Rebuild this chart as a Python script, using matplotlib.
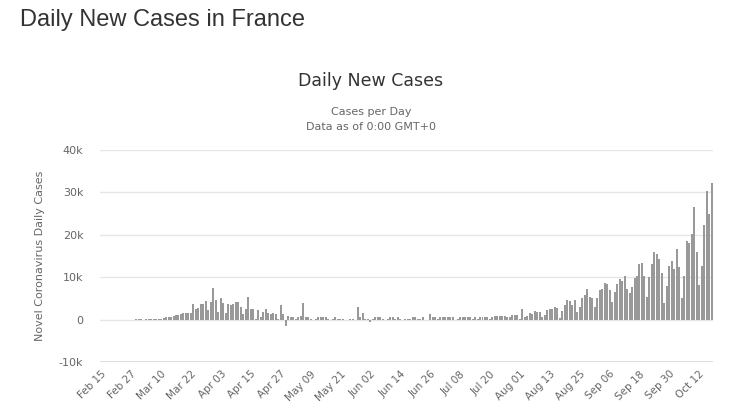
import matplotlib
matplotlib.use("Agg")
import matplotlib.pyplot as plt
import numpy as np
import datetime as dt

# daily new cases, France, Feb 15 - Oct 17 2020
feb = [0, 0, 0, 0, 0, 0, 0, 0, 0, 0, 2, 2, 20, 19, 43]
mar = [30, 61, 21, 73, 138, 190, 200, 200, 100, 250, 400, 500, 600, 700, 850,
       1150, 1050, 1250, 1600, 1500, 1600, 1450, 3700, 2400, 2800, 3700, 3700,
       4400, 2300, 4200, 7500]
apr = [4700, 1900, 5100, 4000, 1600, 3700, 3500, 3700, 4200, 4200, 3000, 1400,
       2600, 5400, 2600, 2600, 200, 2300, 700, 1900, 2600, 1600, 1400, 1600,
       1400, 200, 3500, 1400, -1400, 900]
may = [500, 700, 200, 500, 900, 4000, 500, 500, 200, 0, 200, 500, 500, 500, 500,
       200, 0, 200, 500, 200, 200, 200, 0, 0, 200, 200, 0, 3000, 500, 1600, 100]
jun = [200, -600, 200, 700, 500, 500, 200, 0, 200, 500, 500, 200, 500, 200, 0,
       200, 200, 200, 700, 500, 200, 200, 500, 0, 0, 1400, 700, 500, 200, 500]
jul = [700, 500, 500, 500, 500, 0, 200, 500, 500, 500, 500, 500, 200, 500, 200,
       500, 700, 700, 700, 200, 700, 900, 900, 900, 900, 900, 500, 600, 1200,
       1200, 1200]
aug = [100, 2600, 500, 900, 1600, 1400, 2100, 1900, 1900, 700, 1200, 2300, 2600,
       2600, 3000, 2800, 400, 2100, 3500, 4700, 4400, 3500, 4700, 1900, 3000,
       5200, 5800, 7200, 5400, 5100, 3000]
sep = [5000, 6900, 7100, 8700, 8500, 7000, 4200, 6400, 8500, 9600, 9200, 10400,
       7300, 6200, 7800, 9700, 10400, 13000, 13300, 10400, 5400, 10000, 13000,
       16000, 15400, 14200, 11100, 4000, 8000, 12600]
octo = [13800, 11900, 16600, 12400, 5100, 10300, 18600, 18000, 20100, 26500,
        16000, 8200, 12600, 22200, 30300, 25000, 32200]

cases = feb + mar + apr + may + jun + jul + aug + sep + octo
start = dt.date(2020, 2, 15)
dates = [start + dt.timedelta(days=i) for i in range(len(cases))]
labels = [d.strftime("%b %d") for d in dates]

y_ticks = [-10000, 0, 10000, 20000, 30000, 40000]
y_ticklabels = ["-10k", "0", "10k", "20k", "30k", "40k"]

GRID = "#e6e6e6"
AXIS = "#ccd6eb"
BAR = "#999999"
TXT = "#666666"
DARK = "#333333"

fig = plt.figure(figsize=(7.3, 4.13), dpi=100)
ax = fig.add_axes([100/730, 1 - 362/413, 613/730, 212/413])

x = np.arange(len(cases))
ax.bar(x, cases, width=0.8, color=BAR, zorder=3)

ax.set_xlim(-0.5, len(cases) - 0.5)
ax.set_ylim(-10000, 40000)
ax.set_yticks(y_ticks)
ax.set_yticklabels(y_ticklabels, color=TXT, fontsize=8)
for yv in y_ticks[1:]:
    ax.axhline(yv, color=GRID, lw=1, zorder=1)
ax.axhline(-10000, color=AXIS, lw=1.2, zorder=2)

ticks = list(range(0, len(cases), 12))
ax.set_xticks(ticks)
ax.set_xticklabels([labels[i] for i in ticks], rotation=45, ha="right",
                   rotation_mode="anchor", color=TXT, fontsize=7.5)
ax.tick_params(axis="x", length=0, pad=5)
ax.tick_params(axis="y", length=0, pad=12)
for s in ax.spines.values():
    s.set_visible(False)

ax.set_ylabel("Novel Coronavirus Daily Cases", color=TXT, fontsize=8, labelpad=10)

fig.text(20/730, 1 - 20/413, "Daily New Cases in France", fontsize=17,
         family="Liberation Sans", color=DARK, va="center", ha="left")
fig.text(371/730, 1 - 81/413, "Daily New Cases", fontsize=12.5, color=DARK,
         ha="center", va="center")
fig.text(371/730, 1 - 112/413, "Cases per Day", fontsize=8, color=TXT,
         ha="center", va="center")
fig.text(371/730, 1 - 127/413, "Data as of 0:00 GMT+0", fontsize=8, color=TXT,
         ha="center", va="center")

fig.savefig("out.png", dpi=100)
